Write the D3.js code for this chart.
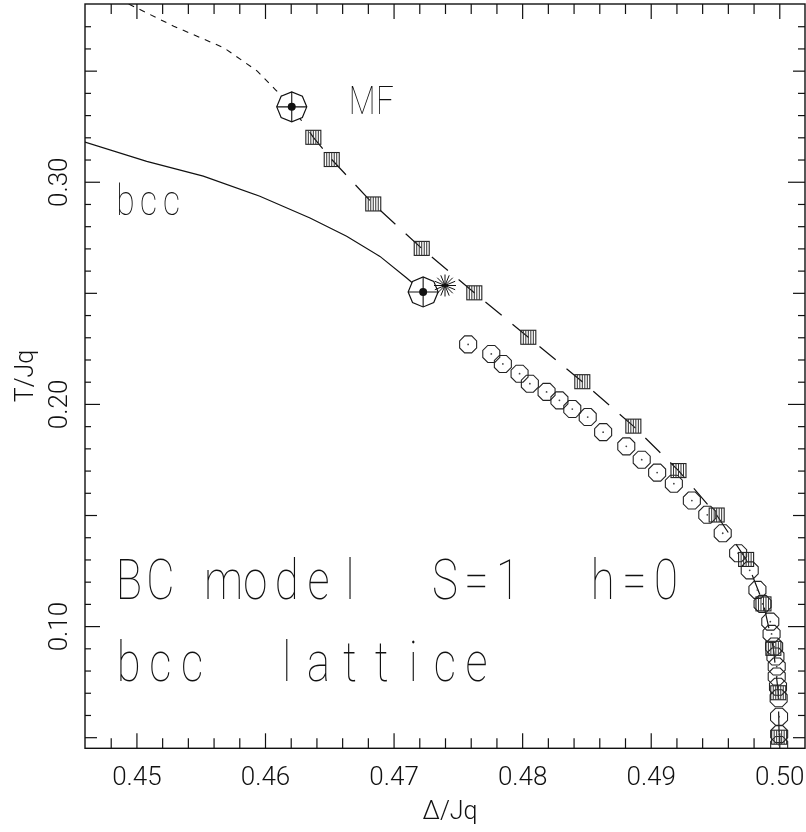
<!DOCTYPE html>
<html>
<head>
<meta charset="utf-8">
<script src="https://cdn.jsdelivr.net/npm/d3@7"></script>
<style>
  body { margin: 0; background: #fff; }
  svg { display: block; filter: grayscale(1); }
</style>
</head>
<body>
<svg id="chart" width="806" height="832"></svg>
<script>
// ---- axis ticks and labels ----
const xMajorTicks = [0.45, 0.46, 0.47, 0.48, 0.49, 0.50];
const xTickLabels = ["0.45", "0.46", "0.47", "0.48", "0.49", "0.50"];
const yLabelTicks = [0.10, 0.20, 0.30];
const yTickLabels = ["0.10", "0.20", "0.30"];
const yMidTicks = [0.05, 0.15, 0.25, 0.35];

// ---- mean-field tricritical line continuation (short dashes) ----
const mfLineDelta = [0.4494, 0.4529, 0.4568, 0.4594, 0.4608, 0.4621];
const mfLineT     = [0.3800, 0.3700, 0.3603, 0.3498, 0.3415, 0.3337];

// ---- bcc second-order line (solid) ----
const bccLineDelta = [0.4440, 0.4460, 0.4508, 0.4552, 0.4596, 0.4635, 0.46635, 0.46894, 0.47102, 0.4723];
const bccLineT     = [0.3210, 0.3178, 0.3092, 0.3025, 0.2935, 0.2837, 0.2755, 0.2664, 0.2567, 0.2504];

// ---- mean-field first-order points (hatched squares) ----
const squareDelta = [0.46376, 0.46519, 0.46842, 0.47219, 0.47628, 0.48048, 0.48468, 0.48865,
                     0.49216, 0.49513, 0.49742, 0.49877, 0.49954, 0.49992, 0.49999];
const squareT     = [0.32, 0.31, 0.29, 0.27, 0.25, 0.23, 0.21, 0.19,
                     0.17, 0.15, 0.13, 0.11, 0.09, 0.07, 0.05];

// ---- bcc first-order points (open octagons) ----
const circleDelta = [0.4758, 0.4776, 0.4785, 0.4798, 0.4806, 0.4819, 0.4829, 0.4839,
                     0.4851, 0.4863, 0.4881, 0.4893, 0.4905, 0.4918, 0.4932, 0.4944,
                     0.4956, 0.4968, 0.4977, 0.4983, 0.4987, 0.4993, 0.4994, 0.4996,
                     0.4997, 0.4998, 0.4998, 0.4999, 0.49995, 0.49998, 0.49999, 0.49999];
const circleT     = [0.2268, 0.2225, 0.2180, 0.2136, 0.2091, 0.2054, 0.2016, 0.1977,
                     0.1941, 0.1873, 0.1809, 0.1749, 0.1691, 0.1641, 0.1565, 0.1501,
                     0.1418, 0.1328, 0.1251, 0.1163, 0.1100, 0.1020, 0.0965, 0.0908,
                     0.0863, 0.0818, 0.0773, 0.0727, 0.0675, 0.0592, 0.0514, 0.0465];

// ---- tricritical points: mean field, bcc ----
const tricritDelta = [0.46208, 0.4723];
const tricritT     = [0.3337, 0.2504];

// ---- critical end point marker ----
const starDelta = [0.4740];
const starT     = [0.2533];

// ---------------------------------------------------------------
const svg = d3.select("#chart");
const X0 = 85, X1 = 805, Y0 = 4, Y1 = 748.3;
const x = d3.scaleLinear().domain([0.446, 0.502]).range([X0, X1]);
const y = d3.scaleLinear().domain([0.045, 0.38]).range([Y1, Y0]);

const FONT = "Roboto, 'Open Sans', Lato, sans-serif";
const FW = 100;      // large annotation text
const FW_SMALL = 300; // tick labels and axis titles
const INK = "#111";

svg.append("rect").attr("width", 806).attr("height", 832).attr("fill", "#fff");
svg.append("defs").append("clipPath").attr("id", "plotclip")
  .append("rect").attr("x", X0).attr("y", Y0).attr("width", X1 - X0).attr("height", Y1 - Y0);

// ---- ticks (inward on all four sides) ----
const xMinor = d3.range(224, 251).map(i => +(i * 0.002).toFixed(3))
  .filter(v => !xMajorTicks.some(m => Math.abs(m - v) < 1e-9));
const yMinor = d3.range(5, 38).map(i => +(i * 0.01).toFixed(2))
  .filter(v => !yLabelTicks.concat(yMidTicks).some(m => Math.abs(m - v) < 1e-9));

function tickAxis(axisFn, scale, values, size, tx, ty) {
  const g = svg.append("g").attr("transform", `translate(${tx},${ty})`)
    .call(axisFn(scale).tickValues(values).tickSize(-size).tickFormat(""));
  g.select(".domain").remove();
  g.selectAll("line").attr("stroke", INK).attr("stroke-width", 1.2);
  return g;
}
tickAxis(d3.axisBottom, x, xMinor, 10, 0, Y1);
tickAxis(d3.axisTop, x, xMinor, 10, 0, Y0);
tickAxis(d3.axisLeft, y, yMinor, 6, X0, 0);
tickAxis(d3.axisRight, y, yMinor, 7, X1, 0);
tickAxis(d3.axisLeft, y, yMidTicks, 12, X0, 0);
tickAxis(d3.axisRight, y, yMidTicks, 12, X1, 0);
tickAxis(d3.axisRight, y, yLabelTicks, 17, X1, 0);
tickAxis(d3.axisTop, x, xMajorTicks, 15, 0, Y0);

// labelled bottom axis
const gxB = svg.append("g").attr("transform", `translate(0,${Y1})`)
  .call(d3.axisBottom(x).tickValues(xMajorTicks).tickSize(-15).tickFormat((d, i) => xTickLabels[i]));
gxB.select(".domain").remove();
gxB.selectAll("line").attr("stroke", INK).attr("stroke-width", 1.2);
gxB.selectAll("text").attr("y", 37).attr("dy", null)
  .attr("font-family", FONT).attr("font-weight", FW_SMALL).attr("font-size", 26)
  .attr("fill", INK).attr("transform", null);

// labelled left axis (rotated labels)
const gyL = svg.append("g").attr("transform", `translate(${X0},0)`)
  .call(d3.axisLeft(y).tickValues(yLabelTicks).tickSize(-15).tickFormat((d, i) => yTickLabels[i]));
gyL.select(".domain").remove();
gyL.selectAll("line").attr("stroke", INK).attr("stroke-width", 1.2);
gyL.selectAll("text").attr("x", null).attr("dy", null)
  .attr("transform", "translate(-18,0) rotate(-90)")
  .attr("text-anchor", "middle")
  .attr("font-family", FONT).attr("font-weight", FW_SMALL).attr("font-size", 26).attr("fill", INK);

// frame
svg.append("rect").attr("x", X0).attr("y", Y0).attr("width", X1 - X0).attr("height", Y1 - Y0)
  .attr("fill", "none").attr("stroke", INK).attr("stroke-width", 1.4);

// axis titles
svg.append("text").attr("x", 450).attr("y", 819).attr("text-anchor", "middle")
  .attr("font-family", FONT).attr("font-weight", FW_SMALL).attr("font-size", 25).attr("fill", INK)
  .text("Δ/Jq");
svg.append("text").attr("transform", "translate(33,376) rotate(-90)").attr("text-anchor", "middle")
  .attr("font-family", FONT).attr("font-weight", FW_SMALL).attr("font-size", 25).attr("fill", INK)
  .text("T/Jq");

// ---- curves ----
const plot = svg.append("g").attr("clip-path", "url(#plotclip)");
const line = d3.line().x(d => x(d[0])).y(d => y(d[1]));

plot.append("path")
  .datum(mfLineDelta.map((d, i) => [d, mfLineT[i]]))
  .attr("d", line).attr("fill", "none").attr("stroke", INK).attr("stroke-width", 1.1)
  .attr("stroke-dasharray", "6,6");

plot.append("path")
  .datum(bccLineDelta.map((d, i) => [d, bccLineT[i]]))
  .attr("d", line).attr("fill", "none").attr("stroke", INK).attr("stroke-width", 1.2);

// long-dashed mean-field first-order line: from the MF tricritical point through the squares
const mfFirstOrder = [[tricritDelta[0], tricritT[0]]].concat(squareDelta.map((d, i) => [d, squareT[i]]));
plot.append("path")
  .datum(mfFirstOrder)
  .attr("d", line).attr("fill", "none").attr("stroke", INK).attr("stroke-width", 1.2)
  .attr("stroke-dasharray", "21,14").attr("stroke-dashoffset", 4);

// ---- markers ----
const octagon = (r, rot) => d3.line().curve(d3.curveLinearClosed)(
  d3.range(8).map(k => {
    const a = (rot + k * 45) * Math.PI / 180;
    return [r * Math.cos(a), r * Math.sin(a)];
  }));

// open octagons with a centre dot
const circ = plot.append("g").selectAll("g")
  .data(circleDelta.map((d, i) => [d, circleT[i]]))
  .join("g").attr("transform", d => `translate(${x(d[0])},${y(d[1])})`);
circ.append("path").attr("d", octagon(9.2, 22.5)).attr("fill", "none")
  .attr("stroke", "#222").attr("stroke-width", 1.1);
circ.append("circle").attr("r", 0.9).attr("fill", "#444");

// hatched squares
const sq = plot.append("g").selectAll("g")
  .data(squareDelta.map((d, i) => [d, squareT[i]]))
  .join("g").attr("transform", d => `translate(${x(d[0])},${y(d[1])})`);
sq.append("rect").attr("x", -7.5).attr("y", -7).attr("width", 15).attr("height", 14)
  .attr("fill", "none").attr("stroke", "#222").attr("stroke-width", 1.1);
sq.selectAll("line.h").data(d3.range(-5, 6, 2.5)).join("line").attr("class", "h")
  .attr("x1", d => d).attr("x2", d => d).attr("y1", -7).attr("y2", 7)
  .attr("stroke", "#333").attr("stroke-width", 1);

// tricritical points: large octagon, cross, filled centre
const tc = plot.append("g").selectAll("g")
  .data(tricritDelta.map((d, i) => [d, tricritT[i]]))
  .join("g").attr("transform", d => `translate(${x(d[0])},${y(d[1])})`);
tc.append("path").attr("d", octagon(15, 0)).attr("fill", "#fff")
  .attr("stroke", INK).attr("stroke-width", 1.2);
tc.append("line").attr("x1", -15).attr("x2", 15).attr("y1", 0).attr("y2", 0)
  .attr("stroke", INK).attr("stroke-width", 1.1);
tc.append("line").attr("x1", 0).attr("x2", 0).attr("y1", -15).attr("y2", 15)
  .attr("stroke", INK).attr("stroke-width", 1.1);
tc.append("circle").attr("r", 4).attr("fill", INK);

// critical end point: asterisk
const st = plot.append("g").selectAll("g")
  .data(starDelta.map((d, i) => [d, starT[i]]))
  .join("g").attr("transform", d => `translate(${x(d[0])},${y(d[1])})`);
st.selectAll("line").data(d3.range(8)).join("line")
  .attr("x1", k => -11 * Math.cos(k * Math.PI / 8)).attr("y1", k => -11 * Math.sin(k * Math.PI / 8))
  .attr("x2", k => 11 * Math.cos(k * Math.PI / 8)).attr("y2", k => 11 * Math.sin(k * Math.PI / 8))
  .attr("stroke", INK).attr("stroke-width", 1);
st.append("circle").attr("r", 2).attr("fill", INK);

// ---- annotation text in fixed-pitch cells ----
function monoText(str, cx0, baseline, pitch, size, sx) {
  const t = svg.append("text")
    .attr("transform", `translate(${cx0},${baseline}) scale(${sx},1)`)
    .attr("font-family", FONT).attr("font-weight", FW).attr("font-size", size)
    .attr("fill", INK).attr("text-anchor", "middle").style("white-space", "pre");
  t.selectAll("tspan").data(Array.from(str)).join("tspan")
    .attr("x", (c, i) => i * pitch / sx).attr("y", 0).text(c => c);
}
monoText("MF", 362, 114.3, 23, 39, 0.8);
monoText("bcc", 125.5, 215, 23, 42, 0.8);
monoText("BC model  S=1  h=0", 128.8, 599.3, 31.6, 56, 0.78);
monoText("bcc  lattice", 128.8, 680.7, 31.6, 56, 0.78);
</script>
</body>
</html>
